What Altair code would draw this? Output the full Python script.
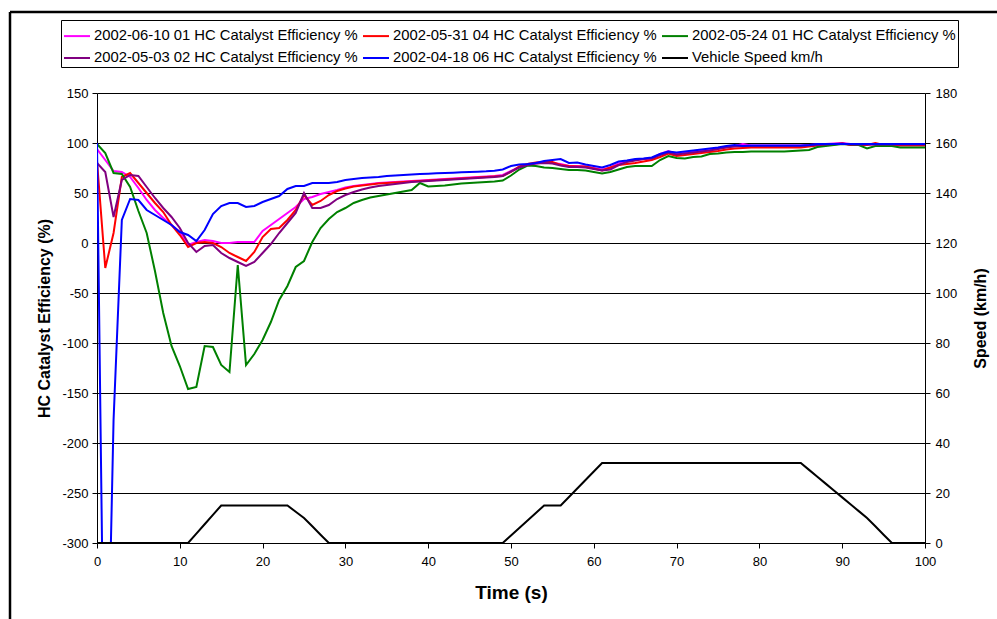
import altair as alt
import pandas as pd

# Sample time (s), one reading per second
time_s = list(range(101))

series_names = [
    "2002-06-10 01 HC Catalyst Efficiency %",
    "2002-05-31 04 HC Catalyst Efficiency %",
    "2002-05-24 01 HC Catalyst Efficiency %",
    "2002-05-03 02 HC Catalyst Efficiency %",
    "2002-04-18 06 HC Catalyst Efficiency %",
    "Vehicle Speed km/h",
]
series_colors = ["#FF00FF", "#FF0000", "#008000", "#800080", "#0000FF", "#000000"]

eff_0610 = [
    94, 83, 72, 71, 66, 55, 43, 33, 25, 18, 11, -2, 1, 3, 2, 0, 0, 1, 1, 1,
    12, 18, 24, 30, 36, 44, 46, 49, 51, 53, 55.5, 57, 58, 59, 60, 60.5, 61, 61.5, 62, 62.5,
    63, 63.5, 64, 64.5, 65, 65.5, 66, 66.5, 67, 68, 72, 76, 78.5, 79.5, 80.5, 80, 79, 77, 77, 76.5,
    75, 73.5, 75.5, 79.5, 82, 83, 84, 84.5, 89, 92, 89, 90, 91, 92, 93, 94.5, 96, 97, 99, 97.5,
    97.5, 97.5, 97.5, 97.5, 97.5, 97.5, 98, 98.5, 99, 99.5, 100, 99, 98.5, 98.5, 98.5, 98.5, 98.5, 98.5, 98.5, 98.5,
    98.5,
]
eff_0531 = [
    82, -25, 10, 66, 70, 60, 50, 40, 31, 18, 8, -4, 0, 1, 0, -4, -10, -14, -18, -9,
    6, 14, 15, 23, 33, 48, 38, 42, 48, 52, 54.5, 56.5, 57.5, 58.5, 59.5, 60, 60.5, 61, 61.5, 62,
    62.5, 63, 63.5, 64, 64.5, 65, 65.5, 66, 66.5, 67, 71, 76.5, 79, 80.5, 81, 81, 78, 77, 76.5, 76.5,
    74.5, 72.5, 75.5, 78, 79, 80, 81.5, 83, 86, 89.5, 87, 88, 89, 90, 91, 92, 93.5, 94.5, 95, 95.5,
    95.5, 95.5, 95.5, 95.5, 95.5, 95.5, 96.5, 97.5, 98, 98.5, 99.5, 98, 98, 98, 100, 98, 97.5, 97.5, 97.5, 97.5,
    97.5,
]
eff_0524 = [
    99, 90, 70, 69, 56, 32, 10, -28, -70, -103, -123, -146, -144, -103, -104, -122, -129, -22, -122, -111,
    -97, -79, -57, -43, -24, -18, 1, 15, 24, 31, 35, 40, 43, 45.5, 47, 48.5, 50, 51.5, 53, 60,
    56.5, 57, 57.5, 58.5, 59.5, 60, 60.5, 61, 61.5, 62.5, 67.5, 73.5, 77.5, 77, 75.5, 75, 74, 73, 73, 72.5,
    71, 69.5, 71, 73.5, 76, 77, 77, 77, 83, 87, 85, 84.5, 86, 86.5, 89, 89.5, 90.5, 91, 91, 91.5,
    91.5, 91.5, 91.5, 91.5, 92, 92.5, 93, 96, 97, 98, 99, 98.5, 98, 94.5, 97, 97, 97, 95.5, 95.5, 95.5,
    95.5,
]
eff_0503 = [
    80, 71, 26, 63, 68, 67, 56, 45, 35, 26, 15, 0, -9, -3, -2, -10, -15, -19, -23, -19,
    -10, -1, 10, 20, 30, 50, 35, 35, 38, 44, 48, 51, 53.5, 55.5, 57, 58, 59, 60, 61, 61.5,
    62, 62.5, 63, 63.5, 64, 64.5, 65, 65.5, 66, 67, 71.5, 75.5, 78, 79.5, 80, 79.5, 77.5, 76, 76, 75.5,
    74, 72.5, 73.5, 78, 81, 82.5, 84, 84.5, 88, 90.5, 88.5, 89.5, 90.5, 91.5, 92.5, 94, 95.5, 96.5, 97, 97,
    97, 97, 97, 97, 97, 97, 97.5, 98, 98.5, 99, 99.5, 98.5, 98.5, 98.5, 98.5, 98.5, 98.5, 98.5, 98.5, 98.5,
    98.5,
]
eff_0418 = [
    100, -560, -177, 23, 44, 43, 33, 28, 23, 18, 11, 8, 2, 13, 29, 37, 40, 40, 36, 37,
    41, 44, 47, 54, 57, 57, 60, 60, 60, 61, 63, 64, 65, 65.5, 66, 67, 67.5, 68, 68.5, 69,
    69.3, 69.7, 70, 70.3, 70.7, 71, 71.3, 71.7, 72.3, 73.5, 77, 78.5, 79, 80, 82, 83, 84, 80, 80.5, 78.5,
    77, 75.5, 78, 81.5, 82.5, 84, 84.5, 85.5, 89, 91.5, 90.5, 91.5, 92.5, 93.5, 94.5, 95.5, 97, 98, 97, 97.5,
    97.5, 97.5, 97.5, 97.5, 97.5, 97.5, 98, 99, 99, 99, 99, 99, 99, 99, 99, 99, 99, 99, 99, 99,
    99,
]
speed_kmh = [
    0, 0, 0, 0, 0, 0, 0, 0, 0, 0, 0, 0, 3.75, 7.5, 11.25, 15, 15, 15, 15, 15,
    15, 15, 15, 15, 12.5, 10, 6.7, 3.3, 0, 0, 0, 0, 0, 0, 0, 0, 0, 0, 0, 0,
    0, 0, 0, 0, 0, 0, 0, 0, 0, 0, 3, 6, 9, 12, 15, 15, 15, 18.4, 21.8, 25.2,
    28.6, 32, 32, 32, 32, 32, 32, 32, 32, 32, 32, 32, 32, 32, 32, 32, 32, 32, 32, 32,
    32, 32, 32, 32, 32, 32, 29.25, 26.5, 23.75, 21, 18.25, 15.5, 12.75, 10, 6.7, 3.3, 0, 0, 0, 0,
    0,
]

eff_series = [eff_0610, eff_0531, eff_0524, eff_0503, eff_0418]

rows = []
for name, vals in zip(series_names[:5], eff_series):
    for t, v in zip(time_s, vals):
        rows.append({"Time": t, "Value": v, "Series": name})
eff_df = pd.DataFrame(rows)
speed_df = pd.DataFrame({"Time": time_s, "Value": speed_kmh, "Series": series_names[5]})

FONT = "Liberation Sans"

color = alt.Color(
    "Series:N",
    sort=series_names,
    scale=alt.Scale(domain=series_names, range=series_colors),
    legend=alt.Legend(
        title=None,
        orient="none",
        direction="horizontal",
        legendX=-36,
        legendY=-73,
        columns=3,
        symbolType="stroke",
        symbolSize=676,
        symbolStrokeWidth=2,
        labelFont=FONT,
        labelFontSize=14.8,
        labelColor="black",
        labelOffset=3,
        labelLimit=0,
        columnPadding=1,
        rowPadding=1,
        padding=2,
        strokeColor="black",
        fillColor="white",
    ),
)

x_enc = alt.X(
    "Time:Q",
    scale=alt.Scale(domain=[0, 100], nice=False, zero=False),
    axis=alt.Axis(
        values=list(range(0, 101, 10)),
        title="Time (s)",
        titleFont=FONT,
        titleFontSize=19,
        titleFontWeight="bold",
        titleColor="black",
        titleX=414,
        titleY=49,
        titleAlign="center",
        titleBaseline="middle",
        labelFont=FONT,
        labelFontSize=13,
        labelColor="black",
        labelPadding=7,
        labelFlush=False,
        tickColor="black",
        tickSize=5,
        domainColor="black",
        grid=False,
    ),
)

eff_layer = alt.Chart(eff_df).mark_line(strokeWidth=2, clip=True).encode(
    x=x_enc,
    y=alt.Y(
        "Value:Q",
        scale=alt.Scale(domain=[-300, 150], nice=False, zero=False),
        axis=alt.Axis(
            values=list(range(-300, 151, 50)),
            labelExpr="'' + datum.value",
            title="HC Catalyst Efficiency (%)",
            titleFont=FONT,
            titleFontSize=16,
            titleFontWeight="bold",
            titleColor="black",
            titleAngle=-90,
            titleX=-53,
            titleY=225,
            titleAlign="center",
            titleBaseline="middle",
            labelFont=FONT,
            labelFontSize=13,
            labelColor="black",
            labelPadding=4,
            labelFlush=False,
            tickColor="black",
            tickSize=5,
            domainColor="black",
            grid=True,
            gridColor="black",
            gridWidth=1,
        ),
    ),
    color=color,
)

speed_layer = alt.Chart(speed_df).mark_line(strokeWidth=2, clip=True).encode(
    x=x_enc,
    y=alt.Y(
        "Value:Q",
        scale=alt.Scale(domain=[0, 180], nice=False, zero=False),
        axis=alt.Axis(
            orient="right",
            values=list(range(0, 181, 20)),
            title="Speed (km/h)",
            titleFont=FONT,
            titleFontSize=16,
            titleFontWeight="bold",
            titleColor="black",
            titleAngle=-90,
            titleX=55,
            titleY=225,
            titleAlign="center",
            titleBaseline="middle",
            labelFont=FONT,
            labelFontSize=13,
            labelColor="black",
            labelPadding=5,
            labelFlush=False,
            tickColor="black",
            tickSize=5,
            domainColor="black",
            grid=False,
        ),
    ),
    color=color,
)

# Chart-area frame (top and left edges)
frame_src = pd.DataFrame({"edge": [0]})
frame_top = alt.Chart(frame_src).mark_rule(color="black", strokeWidth=2.5).encode(
    x=alt.value(-87), x2=alt.value(900), y=alt.value(-81)
)
frame_left = alt.Chart(frame_src).mark_rule(color="black", strokeWidth=2.5).encode(
    x=alt.value(-87), y=alt.value(-81), y2=alt.value(526)
)

chart = (
    alt.layer(eff_layer, speed_layer, frame_top, frame_left)
    .resolve_scale(y="independent")
    .properties(
        width=828,
        height=450,
        padding={"left": 97, "top": 93, "right": 72, "bottom": 76},
        autosize=alt.AutoSizeParams(type="none"),
        background="white",
    )
    .configure_view(stroke=None)
)

chart.save("out.html", embed_options={"renderer": "svg", "actions": False})
